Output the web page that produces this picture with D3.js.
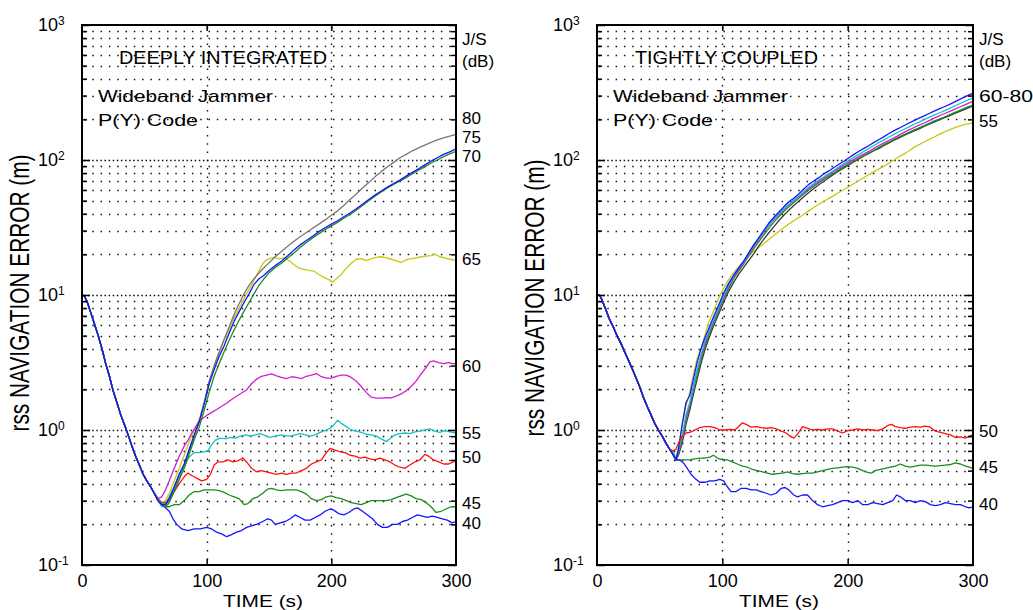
<!DOCTYPE html>
<html><head><meta charset="utf-8">
<script src="https://cdn.jsdelivr.net/npm/d3@7"></script>
<style>
html,body{margin:0;padding:0;background:#fff;}
svg{display:block;font-family:"Liberation Sans",Arial,Helvetica,sans-serif;}
</style></head><body>
<svg id="chart" width="1033" height="610"></svg>
<script>
// ---------------- DATA (time s, rss error m) ----------------
const xTicks = [0, 100, 200, 300];
const yDecades = [0.1, 1, 10, 100, 1000];
const yExponents = ["-1", "0", "1", "2", "3"];

const leftTitle = ["DEEPLY INTEGRATED", "Wideband Jammer", "P(Y) Code"];
const rightTitle = ["TIGHTLY COUPLED", "Wideband Jammer", "P(Y) Code"];
const xAxisTitle = "TIME (s)";
const yAxisTitle = "rss NAVIGATION ERROR (m)";
const jsHeader = ["J/S", "(dB)"];

const leftLabels = ["80", "75", "70", "65", "60", "55", "50", "45", "40"];
const rightLabels = ["60-80", "55", "50", "45", "40"];

// common descent (all curves overlap), deeply integrated
const leftDescent = [[0,10],[2,9.8],[4,9.0],[7,7.4],[10,6.1],[13,5.0],[16,4.0],[19,3.1],[22,2.5],[25,1.95],[28,1.6],[31,1.3],[34,1.1],[37,0.92],[40,0.76],[43,0.64],[46,0.55],[49,0.47],[52,0.42],[55,0.38],[58,0.34]];

const left40 = [[61,0.30],[64,0.28],[67,0.265],[70,0.25],[73,0.22],[76,0.2],[80,0.185],[85,0.18],[90,0.185],[95,0.185],[100,0.19],[104,0.185],[108,0.175],[112,0.17],[116,0.162],[120,0.168],[124,0.175],[128,0.18],[132,0.19],[136,0.195],[140,0.2],[145,0.21],[149,0.22],[152,0.215],[155,0.2],[159,0.205],[163,0.21],[167,0.22],[171,0.235],[175,0.225],[179,0.215],[183,0.215],[187,0.225],[191,0.235],[195,0.25],[199,0.26],[202,0.255],[206,0.24],[210,0.235],[214,0.245],[218,0.26],[221,0.265],[225,0.25],[229,0.235],[233,0.22],[237,0.2],[241,0.19],[245,0.19],[249,0.2],[253,0.2],[257,0.21],[261,0.215],[265,0.225],[269,0.235],[273,0.23],[277,0.225],[281,0.23],[285,0.225],[289,0.22],[293,0.215],[297,0.205],[300,0.21]];

const left45 = [[61,0.30],[64,0.28],[67,0.27],[70,0.27],[74,0.28],[78,0.28],[82,0.30],[86,0.33],[90,0.35],[94,0.35],[98,0.36],[102,0.36],[106,0.36],[110,0.355],[114,0.345],[118,0.33],[122,0.32],[126,0.31],[130,0.28],[133,0.285],[137,0.31],[141,0.32],[145,0.34],[149,0.365],[152,0.37],[156,0.36],[160,0.355],[164,0.36],[168,0.36],[172,0.36],[176,0.35],[180,0.335],[184,0.31],[188,0.30],[192,0.305],[196,0.32],[200,0.325],[204,0.315],[208,0.31],[212,0.3],[216,0.29],[220,0.285],[224,0.28],[228,0.29],[232,0.30],[236,0.30],[240,0.30],[244,0.30],[248,0.305],[252,0.315],[256,0.325],[260,0.335],[264,0.325],[268,0.31],[272,0.305],[276,0.29],[280,0.27],[284,0.245],[288,0.25],[292,0.26],[296,0.27],[300,0.27]];

const left50 = [[61,0.31],[64,0.29],[67,0.29],[70,0.31],[74,0.35],[78,0.40],[82,0.45],[85,0.48],[88,0.46],[92,0.44],[96,0.42],[100,0.43],[103,0.47],[106,0.55],[109,0.58],[113,0.58],[117,0.6],[121,0.58],[125,0.59],[129,0.62],[132,0.58],[136,0.52],[140,0.49],[144,0.5],[148,0.49],[152,0.48],[156,0.47],[160,0.48],[164,0.47],[168,0.48],[172,0.48],[176,0.5],[180,0.52],[184,0.56],[188,0.58],[192,0.6],[196,0.68],[199,0.73],[203,0.71],[207,0.69],[211,0.68],[215,0.65],[219,0.64],[223,0.62],[227,0.63],[231,0.61],[235,0.6],[239,0.62],[243,0.6],[247,0.58],[251,0.55],[255,0.53],[259,0.52],[263,0.55],[267,0.58],[271,0.6],[275,0.66],[278,0.64],[282,0.6],[286,0.58],[290,0.56],[294,0.56],[298,0.58],[300,0.6]];

const left55 = [[61,0.30],[64,0.27],[67,0.28],[70,0.32],[74,0.38],[78,0.47],[82,0.56],[86,0.63],[90,0.68],[94,0.68],[98,0.69],[101,0.7],[104,0.78],[107,0.84],[111,0.87],[115,0.86],[119,0.88],[123,0.87],[127,0.9],[131,0.92],[135,0.9],[139,0.92],[143,0.94],[147,0.91],[151,0.88],[155,0.9],[159,0.92],[163,0.91],[167,0.9],[171,0.92],[175,0.94],[179,0.92],[183,0.9],[187,0.92],[191,0.96],[195,0.99],[199,1.03],[202,1.09],[205,1.18],[208,1.12],[212,1.06],[216,1.0],[220,0.98],[224,0.96],[228,0.93],[232,0.92],[236,0.9],[240,0.86],[244,0.82],[247,0.86],[251,0.92],[255,0.94],[259,0.95],[263,0.94],[267,0.97],[271,0.98],[275,1.0],[279,1.02],[283,0.98],[287,0.96],[291,0.99],[295,0.97],[300,0.95]];

const left60 = [[61,0.31],[64,0.32],[67,0.36],[70,0.42],[74,0.52],[78,0.64],[82,0.76],[85,0.84],[89,0.98],[93,1.12],[96,1.2],[100,1.28],[104,1.35],[108,1.42],[112,1.5],[116,1.58],[120,1.68],[124,1.78],[128,1.88],[132,1.98],[136,2.2],[140,2.38],[144,2.5],[148,2.55],[152,2.6],[156,2.52],[160,2.45],[164,2.4],[168,2.48],[172,2.45],[176,2.4],[180,2.5],[184,2.55],[188,2.62],[192,2.48],[196,2.42],[200,2.42],[204,2.5],[208,2.55],[212,2.55],[216,2.45],[220,2.3],[224,2.1],[228,1.9],[232,1.75],[236,1.72],[240,1.72],[244,1.74],[248,1.73],[252,1.78],[256,1.85],[260,1.95],[264,2.1],[268,2.3],[272,2.6],[276,2.9],[279,3.2],[282,3.25],[286,3.15],[290,3.1],[294,3.15],[297,3.1],[300,3.1]];

const left65 = [[61,0.30],[64,0.29],[67,0.30],[70,0.34],[74,0.42],[78,0.52],[82,0.65],[86,0.82],[90,1.0],[94,1.2],[98,1.6],[102,2.2],[106,2.9],[110,3.7],[114,4.6],[118,5.6],[122,6.8],[126,8.0],[130,9.4],[134,11.0],[138,13.0],[141,14.5],[144,16.5],[147,18.0],[150,18.5],[154,19.0],[158,18.5],[162,18.8],[166,18.0],[170,16.8],[174,15.8],[178,15.5],[182,15.2],[186,15.0],[190,14.2],[194,13.5],[198,13.0],[201,12.4],[204,13.2],[208,14.2],[212,15.8],[216,17.2],[220,18.4],[224,18.6],[228,18.0],[232,18.5],[236,19.0],[240,19.2],[244,18.8],[248,18.4],[252,18.0],[256,17.4],[260,18.2],[264,18.6],[268,18.8],[272,19.2],[276,19.4],[280,19.6],[283,20.1],[287,19.2],[291,18.8],[295,18.4],[300,18.0]];

const left70 = [[61,0.31],[64,0.29],[67,0.28],[70,0.30],[74,0.36],[78,0.44],[82,0.54],[86,0.7],[90,0.9],[94,1.15],[98,1.6],[102,2.3],[106,3.0],[110,3.8],[114,4.7],[118,5.8],[122,7.2],[126,8.6],[130,10.2],[134,11.8],[138,13.2],[142,14.6],[146,15.9],[150,17.3],[155,19.2],[160,21.0],[165,23.0],[170,25.0],[175,27.0],[180,29.0],[185,31.2],[190,33.5],[195,36.0],[200,39.0],[205,42],[210,46],[215,51],[220,56],[225,62],[230,68],[235,75],[240,82],[245,89],[250,96],[255,104],[260,110],[265,117],[270,123],[275,129],[280,135],[285,141],[290,146],[295,150],[300,155]];

const left75 = [[61,0.30],[64,0.28],[67,0.28],[70,0.31],[74,0.38],[78,0.47],[82,0.56],[86,0.72],[90,0.92],[94,1.15],[98,1.55],[102,2.2],[106,2.8],[110,3.5],[114,4.2],[118,5.2],[122,6.4],[126,7.5],[130,8.8],[134,10.2],[138,12.0],[142,13.2],[146,14.0],[150,15.2],[155,16.5],[160,17.8],[165,19.5],[170,21.5],[175,23.5],[180,25.3],[185,27.2],[190,29.5],[195,31.5],[200,33.5],[205,35.5],[210,38],[215,40.5],[220,43.5],[225,47],[230,51],[235,55],[240,59],[245,63],[250,67],[255,71],[260,76],[265,81],[270,86],[275,92],[280,98],[285,104],[290,110],[295,115],[300,121]];

const left80 = [[61,0.30],[64,0.28],[67,0.27],[70,0.29],[74,0.35],[78,0.43],[82,0.52],[86,0.66],[90,0.85],[94,1.05],[98,1.4],[102,1.9],[106,2.5],[110,3.1],[114,3.8],[118,4.6],[122,5.5],[126,6.5],[130,7.6],[134,8.8],[138,10.2],[142,11.8],[146,13.2],[150,14.6],[155,16.0],[160,17.2],[165,18.8],[170,20.5],[175,22.5],[180,24.5],[185,26.5],[190,28.5],[195,30.5],[200,32.5],[205,34.5],[210,37],[215,39.5],[220,42.5],[225,46],[230,50],[235,54],[240,58],[245,62],[250,66],[255,70],[260,74],[265,79],[270,84],[275,89],[280,95],[285,100],[290,106],[295,111],[300,116]];

// common descent, tightly coupled
const rightDescent = [[0,10],[2,10],[4,9.2],[7,7.8],[10,6.6],[13,5.8],[16,5.0],[19,4.4],[22,3.8],[25,3.3],[28,2.85],[31,2.45],[34,2.1],[37,1.75],[40,1.5],[43,1.3],[46,1.12],[49,1.0],[52,0.9],[55,0.8],[58,0.72]];

const right40 = [[61,0.65],[63,0.6],[66,0.6],[69,0.57],[72,0.52],[75,0.47],[78,0.44],[82,0.41],[86,0.41],[90,0.42],[94,0.42],[98,0.43],[101,0.42],[104,0.38],[107,0.35],[111,0.35],[115,0.37],[119,0.37],[123,0.36],[127,0.36],[131,0.35],[135,0.34],[139,0.33],[143,0.34],[147,0.37],[150,0.375],[153,0.36],[157,0.33],[160,0.32],[164,0.33],[168,0.33],[172,0.3],[176,0.28],[180,0.27],[184,0.275],[188,0.28],[192,0.29],[196,0.3],[200,0.3],[204,0.29],[208,0.3],[212,0.28],[216,0.28],[220,0.29],[224,0.285],[228,0.28],[232,0.29],[236,0.3],[239,0.33],[242,0.32],[246,0.3],[250,0.3],[254,0.29],[258,0.3],[262,0.295],[266,0.28],[270,0.275],[274,0.28],[278,0.29],[282,0.285],[286,0.28],[290,0.28],[294,0.27],[297,0.265],[300,0.27]];

const right45 = [[61,0.65],[63,0.6],[66,0.6],[70,0.6],[74,0.6],[78,0.61],[82,0.62],[86,0.62],[90,0.63],[93,0.65],[96,0.62],[100,0.6],[104,0.6],[108,0.58],[112,0.56],[116,0.54],[120,0.53],[124,0.51],[128,0.5],[132,0.49],[136,0.48],[140,0.47],[144,0.475],[148,0.48],[152,0.49],[156,0.475],[160,0.47],[164,0.475],[168,0.48],[172,0.48],[176,0.49],[180,0.5],[184,0.51],[188,0.52],[192,0.525],[196,0.53],[200,0.535],[204,0.53],[208,0.52],[212,0.5],[216,0.485],[219,0.48],[222,0.5],[226,0.51],[230,0.52],[234,0.53],[238,0.54],[242,0.56],[246,0.54],[250,0.53],[254,0.54],[258,0.55],[262,0.55],[266,0.545],[270,0.54],[274,0.545],[278,0.55],[282,0.555],[286,0.57],[290,0.56],[294,0.54],[297,0.53],[300,0.52]];

const right50 = [[61,0.7],[63,0.72],[65,0.8],[68,0.9],[71,0.95],[74,0.96],[78,1.0],[82,1.04],[86,1.06],[90,1.06],[94,1.04],[98,1.0],[102,1.0],[106,1.01],[110,1.0],[113,1.06],[116,1.13],[119,1.1],[123,1.05],[127,1.06],[131,1.04],[135,1.03],[139,1.04],[143,1.02],[147,0.98],[151,0.95],[154,0.9],[157,0.87],[160,0.93],[164,1.06],[168,1.03],[172,1.0],[176,1.01],[180,1.0],[184,1.02],[188,1.02],[192,0.98],[196,0.95],[200,0.99],[204,1.0],[208,1.02],[212,1.0],[216,1.01],[220,1.0],[224,0.99],[228,1.02],[232,1.08],[235,1.1],[238,1.06],[242,1.04],[246,1.03],[250,1.05],[254,1.06],[258,1.05],[262,1.07],[266,1.05],[270,0.98],[274,0.96],[278,0.94],[282,0.92],[286,0.88],[290,0.89],[294,0.87],[297,0.9],[300,0.92]];

const right55 = [[61,0.66],[63,0.62],[65,0.75],[68,1.1],[71,1.5],[74,1.9],[77,2.6],[80,3.4],[83,4.0],[86,5.0],[89,6.2],[93,7.6],[97,9.4],[101,11.2],[105,13.0],[109,14.6],[113,16.2],[117,17.8],[121,19.5],[125,21],[129,22.5],[133,24],[137,25.8],[141,27.5],[145,29.5],[149,31.5],[153,33.5],[157,35.5],[161,37.5],[165,39.5],[169,42],[173,44.5],[177,47],[181,49.5],[185,52],[189,54.5],[193,57.5],[197,60.5],[201,63.5],[205,67],[209,70.5],[213,74],[217,78],[221,82],[225,86],[229,90],[233,95],[237,100],[241,106],[245,111],[249,117],[253,124],[257,130],[261,136],[265,142],[269,148],[273,155],[277,161],[281,167],[285,173],[289,178],[293,183],[297,186],[300,188]];

const right60 = [[61,0.65],[63,0.6],[65,0.65],[68,0.8],[71,1.1],[74,1.4],[77,1.85],[80,2.4],[83,3.1],[86,3.9],[89,4.7],[93,5.9],[97,7.2],[101,8.8],[105,10.6],[109,12.4],[113,14.2],[117,16.0],[121,18.0],[125,20.2],[129,23],[133,25.8],[137,28.8],[141,32],[145,35.5],[149,39],[153,42.5],[157,46],[161,49.5],[165,53.5],[169,57.5],[173,61.5],[177,65.5],[181,69.5],[185,74],[189,78.5],[193,83],[197,87.5],[201,92],[205,97],[209,102],[213,107],[217,112],[221,117],[225,122],[229,128],[233,134],[237,140],[241,146],[245,152],[249,158],[253,164],[257,170],[261,177],[265,184],[269,191],[273,198],[277,205],[281,212],[285,220],[289,228],[293,236],[297,245],[300,250]];

const right65 = [[61,0.65],[63,0.6],[65,0.66],[68,0.85],[71,1.2],[74,1.5],[77,2.0],[80,2.6],[83,3.3],[86,4.1],[89,5.0],[93,6.2],[97,7.6],[101,9.3],[105,11.2],[109,13.2],[113,15.0],[117,17.0],[121,19.4],[125,22],[129,24.8],[133,27.8],[137,31],[141,34.5],[145,38],[149,41.5],[153,45],[157,48.5],[161,52],[165,56],[169,60],[173,64],[177,68],[181,72],[185,76],[189,80],[193,84.5],[197,89],[201,93.5],[205,98],[209,103],[213,108],[217,113],[221,118],[225,124],[229,130],[233,136],[237,142],[241,148],[245,154],[249,160],[253,167],[257,173],[261,180],[265,187],[269,194],[273,201],[277,208],[281,216],[285,224],[289,232],[293,241],[297,250],[300,255]];

const right70 = [[61,0.66],[63,0.6],[65,0.68],[68,0.88],[71,1.25],[74,1.55],[77,2.1],[80,2.8],[83,3.5],[86,4.3],[89,5.2],[93,6.4],[97,7.8],[101,9.6],[105,11.6],[109,13.6],[113,15.4],[117,17.4],[121,20],[125,22.8],[129,25.8],[133,29],[137,32.5],[141,36],[145,39.5],[149,43],[153,46.5],[157,50],[161,53.5],[165,57.5],[169,61.5],[173,65.5],[177,69.5],[181,73.5],[185,78],[189,82.5],[193,87],[197,91.5],[201,96],[205,101],[209,106],[213,111],[217,116],[221,122],[225,128],[229,134],[233,140],[237,146],[241,153],[245,160],[249,167],[253,174],[257,181],[261,188],[265,196],[269,204],[273,212],[277,220],[281,228],[285,237],[289,246],[293,255],[297,265],[300,272]];

const right75 = [[61,0.68],[63,0.62],[65,0.7],[68,0.9],[71,1.3],[74,1.6],[77,2.1],[80,2.8],[83,3.6],[86,4.5],[89,5.3],[93,6.5],[97,8.0],[101,9.8],[105,11.8],[109,13.8],[113,15.6],[117,17.6],[121,20.3],[125,23.2],[129,26.2],[133,29.5],[137,33],[141,36.5],[145,40],[149,43.5],[153,47],[157,50.5],[161,54],[165,58.5],[169,63],[173,67],[177,71],[181,75],[185,79.5],[189,84],[193,89],[197,94],[201,99],[205,105],[209,110],[213,116],[217,122],[221,128],[225,135],[229,141],[233,148],[237,155],[241,162],[245,169],[249,176],[253,184],[257,191],[261,199],[265,207],[269,215],[273,223],[277,231],[281,240],[285,250],[289,260],[293,270],[297,281],[300,288]];

const right80 = [[61,0.65],[63,0.6],[65,0.72],[68,1.1],[71,1.6],[74,1.8],[77,2.4],[80,3.2],[83,4.0],[86,4.8],[89,5.6],[93,6.9],[97,8.4],[101,10.3],[105,12.2],[109,14.0],[113,15.8],[117,17.8],[121,20.5],[125,23.5],[129,26.5],[133,30],[137,34],[141,37.5],[145,41],[149,45],[153,49],[157,52],[161,56],[165,61],[169,66],[173,70],[177,74],[181,79],[185,83],[189,88],[193,93],[197,98],[201,104],[205,110],[209,116],[213,122],[217,128],[221,135],[225,142],[229,149],[233,157],[237,165],[241,172],[245,180],[249,188],[253,196],[257,204],[261,212],[265,221],[269,230],[273,239],[277,248],[281,257],[285,268],[289,280],[293,292],[297,304],[300,313]];

// ---------------- DRAWING ----------------
const svg = d3.select("#chart");
svg.append("rect").attr("width", 1033).attr("height", 610).attr("fill", "#fff");

const C = {
  blue: "#1414ff", green: "#1b8c1b", red: "#ff1010", cyan: "#14c4c4",
  magenta: "#d41cd4", yellow: "#c8c814", gray: "#777777", dark: "#3a3a3a"
};

const leftSeries = [
  {d: left65, c: C.yellow}, {d: left60, c: C.magenta}, {d: left55, c: C.cyan},
  {d: left50, c: C.red}, {d: left45, c: C.green}, {d: left40, c: C.blue},
  {d: left70, c: C.gray}, {d: left80, c: C.green}, {d: left75, c: C.blue}
].map(s => ({data: leftDescent.concat(s.d), color: s.c}));

const rightSeries = [
  {d: right55, c: C.yellow}, {d: right60, c: C.dark}, {d: right65, c: C.green},
  {d: right70, c: C.magenta}, {d: right75, c: C.cyan}, {d: right80, c: C.blue},
  {d: right50, c: C.red}, {d: right45, c: C.green}, {d: right40, c: C.blue}
].map(s => ({data: rightDescent.concat(s.d), color: s.c}));

function drawPanel(cfg) {
  const top = 25, bottom = 565;
  const x = d3.scaleLinear().domain([0, 300]).range([cfg.x0, cfg.x1]);
  const y = d3.scaleLog().domain([yDecades[0], yDecades[yDecades.length - 1]]).range([bottom, top]);
  const g = svg.append("g");
  const id = "clip" + cfg.name;
  svg.append("defs").append("clipPath").attr("id", id)
    .append("rect").attr("x", cfg.x0).attr("y", top).attr("width", cfg.x1 - cfg.x0).attr("height", bottom - top);

  const allTicks = y.ticks();
  const isDecade = v => yDecades.some(d => Math.abs(d - v) / d < 1e-6);
  const inner = allTicks.filter(v => v > yDecades[0] * 1.0001 && v < yDecades[yDecades.length - 1] * 0.9999);

  // horizontal dotted grid
  g.append("g").selectAll("line").data(inner).join("line")
    .attr("x1", cfg.x0 + 2).attr("x2", cfg.x1 - 2)
    .attr("y1", d => Math.round(y(d)) + 0.5).attr("y2", d => Math.round(y(d)) + 0.5)
    .attr("stroke", "#111").attr("stroke-width", 1.4)
    .attr("stroke-dasharray", d => isDecade(d) ? "1.5,2.6" : "1.5,6.8");
  // vertical dotted grid
  g.append("g").selectAll("line").data(xTicks.slice(1, -1)).join("line")
    .attr("x1", d => Math.round(x(d)) + 0.5).attr("x2", d => Math.round(x(d)) + 0.5)
    .attr("y1", top + 2).attr("y2", bottom - 2)
    .attr("stroke", "#111").attr("stroke-width", 1.4).attr("stroke-dasharray", "1.5,6.8");

  // series
  const line = d3.line().x(d => x(d[0])).y(d => y(d[1]));
  g.append("g").attr("clip-path", `url(#${id})`).selectAll("path").data(cfg.series).join("path")
    .attr("d", s => line(s.data)).attr("fill", "none")
    .attr("stroke", s => s.color).attr("stroke-width", 1.3).attr("stroke-linejoin", "round");

  // axes (ticks inward)
  const minorTicks = allTicks.filter(v => !isDecade(v));
  const axStyle = sel => { sel.select(".domain").remove(); sel.selectAll("line").attr("stroke", "#000").attr("stroke-width", 1.5); };
  g.append("g").attr("transform", `translate(${cfg.x0},0)`)
    .call(d3.axisLeft(y).tickValues(minorTicks).tickSize(-5).tickFormat("")).call(axStyle);
  g.append("g").attr("transform", `translate(${cfg.x1},0)`)
    .call(d3.axisRight(y).tickValues(minorTicks).tickSize(-5).tickFormat("")).call(axStyle);
  g.append("g").attr("transform", `translate(${cfg.x1},0)`)
    .call(d3.axisRight(y).tickValues(yDecades).tickSize(-8).tickFormat("")).call(axStyle);
  const yAx = g.append("g").attr("transform", `translate(${cfg.x0},0)`)
    .call(d3.axisLeft(y).tickValues(yDecades).tickSize(-8).tickFormat(() => "10")).call(axStyle);
  yAx.selectAll("text")
    .attr("x", -44).attr("dy", null).attr("y", 5).attr("text-anchor", "start")
    .attr("font-size", 18).attr("fill", "#000").attr("font-family", "Liberation Sans, Arial, sans-serif")
    .each(function(d, i) {
      d3.select(this).append("tspan").attr("dy", -6).attr("font-size", 12).text(yExponents[i]);
    });
  const xAx = g.append("g").attr("transform", `translate(0,${bottom})`)
    .call(d3.axisBottom(x).tickValues(xTicks).tickSize(0).tickPadding(22));
  xAx.select(".domain").remove();
  xAx.selectAll("text").attr("font-size", 18).attr("fill", "#000").attr("dy", null)
    .attr("font-family", "Liberation Sans, Arial, sans-serif");
  g.append("g").attr("transform", `translate(0,${bottom})`)
    .call(d3.axisBottom(x).tickValues(xTicks.slice(1, -1)).tickSize(-6).tickFormat("")).call(axStyle);
  g.append("g").attr("transform", `translate(0,${top})`)
    .call(d3.axisTop(x).tickValues(xTicks.slice(1, -1)).tickSize(-6).tickFormat("")).call(axStyle);

  // frame
  g.append("rect").attr("x", cfg.x0).attr("y", top).attr("width", cfg.x1 - cfg.x0).attr("height", bottom - top)
    .attr("fill", "none").attr("stroke", "#000").attr("stroke-width", 2);

  // in-plot texts
  const tx = g.append("g").attr("fill", "#000");
  tx.append("text").attr("x", cfg.x0 + cfg.titleDx).attr("y", 64).attr("font-size", 18)
    .attr("textLength", cfg.titleW).attr("lengthAdjust", "spacingAndGlyphs").text(cfg.titles[0]);
  tx.append("text").attr("x", cfg.x0 + 16).attr("y", 102).attr("font-size", 17)
    .attr("textLength", 175).attr("lengthAdjust", "spacingAndGlyphs").text(cfg.titles[1]);
  tx.append("text").attr("x", cfg.x0 + 16).attr("y", 126).attr("font-size", 17)
    .attr("textLength", 100).attr("lengthAdjust", "spacingAndGlyphs").text(cfg.titles[2]);

  // J/S header and end labels
  const lx = cfg.x1 + 6;
  tx.append("text").attr("x", lx).attr("y", 45).attr("font-size", 17).text(jsHeader[0]);
  tx.append("text").attr("x", lx).attr("y", 67).attr("font-size", 17).text(jsHeader[1]);
  tx.selectAll(".lbl").data(cfg.labels).join("text").attr("class", "lbl")
    .attr("x", lx).attr("y", (d, i) => y(cfg.labelAt[i]) + 6).attr("font-size", 17)
    .attr("textLength", (d) => d.length > 2 ? 54 : null).attr("lengthAdjust", "spacingAndGlyphs")
    .text(d => d);

  // axis titles
  tx.append("text").attr("x", (cfg.x0 + cfg.x1) / 2 - 6).attr("y", 607).attr("text-anchor", "middle")
    .attr("font-size", 17).attr("textLength", 80).attr("lengthAdjust", "spacingAndGlyphs").text(xAxisTitle);
  tx.append("text").attr("transform", `translate(${cfg.x0 - 53},${cfg.yTitleC}) rotate(-90)`)
    .attr("text-anchor", "middle").attr("font-size", 28)
    .attr("textLength", 277).attr("lengthAdjust", "spacingAndGlyphs").text(yAxisTitle);
}

drawPanel({
  name: "L", x0: 82, x1: 456, series: leftSeries, titles: leftTitle, titleDx: 37, titleW: 208,
  labels: leftLabels, labelAt: [205, 148, 107, 18.5, 3.0, 0.95, 0.63, 0.29, 0.205], yTitleC: 293
});
drawPanel({
  name: "R", x0: 597, x1: 973, series: rightSeries, titles: rightTitle, titleDx: 38, titleW: 183,
  labels: rightLabels, labelAt: [298, 194, 0.98, 0.53, 0.283], yTitleC: 298
});
</script>
</body></html>
